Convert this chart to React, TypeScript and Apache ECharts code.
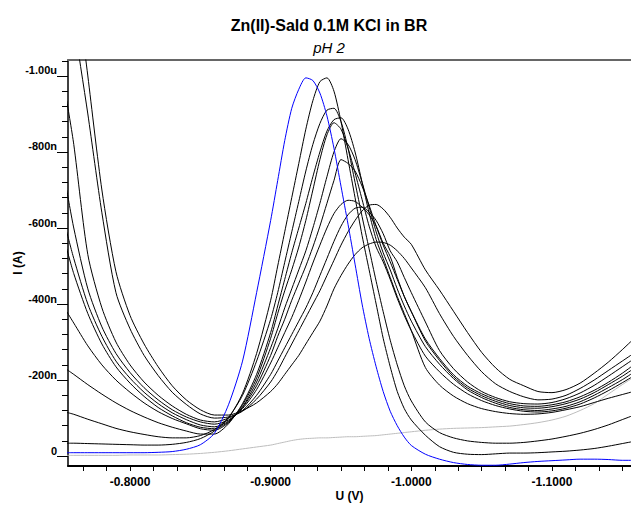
import React, { useEffect, useRef } from "react";
import * as echarts from "echarts";

// Potential U (V)
const voltage = [
  -0.755, -0.76, -0.77, -0.78, -0.79, -0.8, -0.81, -0.82, -0.83, -0.84, -0.85, -0.86, -0.87, -0.88,
  -0.89, -0.9, -0.905, -0.91, -0.915, -0.92, -0.925, -0.93, -0.935, -0.94, -0.945, -0.95, -0.955, -0.96, -0.965, -0.97,
  -0.975, -0.98, -0.985, -0.99, -0.995, -1.0,
  -1.01, -1.02, -1.03, -1.04, -1.05, -1.06, -1.07, -1.08, -1.09, -1.1, -1.11, -1.12, -1.13, -1.14, -1.15, -1.16,
];

// Currents I in nA (black scans)
const scanA = [
  -1500, -1300, -1000, -700, -485, -370, -295, -235, -185, -148, -122, -108, -108, -120,
  -140, -170, -190, -215, -240, -265, -295, -325, -355, -395, -440, -475, -505, -530, -548, -558,
  -563, -562, -555, -540, -520, -495,
  -443, -375, -315, -265, -222, -190, -170, -156, -148, -150, -160, -178, -200, -225, -250, -275,
];
const scanB = [
  -1350, -1150, -900, -640, -430, -335, -265, -212, -168, -136, -111, -100, -103, -118,
  -150, -195, -225, -260, -295, -330, -365, -400, -435, -475, -515, -555, -590, -620, -645, -660,
  -662, -650, -628, -600, -576, -557,
  -490, -437, -381, -325, -273, -232, -202, -185, -170, -167, -175, -192, -218, -247, -280, -315,
];
const scanC = [
  -935, -820, -530, -390, -300, -240, -195, -160, -132, -110, -95, -90, -100, -120,
  -160, -215, -250, -285, -320, -355, -390, -430, -475, -520, -565, -605, -635, -652, -655, -642,
  -620, -585, -540, -511, -470, -430,
  -353, -278, -230, -195, -170, -154, -143, -138, -137, -141, -151, -166, -186, -210, -235, -260,
];
const scanD = [
  -700, -600, -440, -340, -270, -220, -180, -148, -122, -103, -90, -84, -95, -125,
  -175, -245, -285, -325, -365, -410, -458, -508, -555, -600, -638, -662, -673, -670, -655, -635,
  -605, -560, -525, -470, -420, -380,
  -308, -257, -214, -184, -164, -149, -138, -132, -131, -135, -143, -156, -173, -194, -218, -245,
];
const scanE = [
  -590, -520, -400, -315, -250, -205, -168, -138, -114, -96, -82, -77, -92, -128,
  -185, -265, -315, -360, -410, -455, -500, -550, -605, -665, -725, -780, -770, -750, -710, -660,
  -605, -555, -511, -465, -420, -380,
  -303, -252, -209, -179, -159, -144, -133, -127, -126, -130, -138, -150, -167, -188, -210, -235,
];
const scanF = [
  -545, -480, -375, -295, -235, -192, -157, -128, -106, -88, -76, -72, -90, -130,
  -195, -285, -335, -390, -440, -490, -540, -600, -665, -735, -800, -835, -820, -780, -720, -655,
  -590, -535, -490, -440, -395, -355,
  -288, -242, -204, -174, -154, -139, -128, -122, -120, -124, -131, -143, -160, -180, -201, -225,
];
const scanG = [
  -380, -350, -290, -240, -200, -168, -140, -117, -99, -85, -72, -68, -88, -135,
  -205, -310, -375, -435, -490, -550, -620, -700, -780, -845, -877, -860, -810, -745, -675, -605,
  -550, -511, -465, -415, -370, -330,
  -263, -222, -189, -164, -146, -133, -124, -118, -116, -119, -126, -137, -153, -172, -193, -215,
];
const scanH = [
  -228, -215, -188, -163, -140, -120, -103, -88, -76, -66, -58, -58, -85, -138,
  -215, -325, -395, -465, -535, -600, -665, -735, -800, -855, -885, -890, -860, -800, -720, -640,
  -570, -520, -470, -420, -375, -330,
  -233, -187, -158, -138, -125, -117, -112, -110, -111, -115, -122, -130, -141, -152, -162, -172,
];
const scanI = [
  -115, -110, -97, -85, -73, -64, -57, -51, -48, -48, -54, -70, -102, -160,
  -250, -360, -430, -510, -590, -670, -750, -820, -875, -910, -915, -880, -810, -720, -630, -545,
  -460, -380, -305, -240, -185, -145,
  -90, -62, -48, -40, -36, -34, -34, -36, -40, -45, -52, -60, -70, -82, -96, -110,
];
const scanJ = [
  -34, -34, -33, -32, -31, -30, -29, -29, -31, -36, -46, -66, -100, -165,
  -270, -410, -500, -590, -680, -770, -860, -935, -985, -995, -960, -880, -780, -680, -580, -490,
  -400, -310, -235, -170, -125, -95,
  -55, -25, -10, -5, -4, -6, -8, -8, -9, -11, -13, -16, -20, -26, -33, -40,
];
// Blue scan
const blueScan = [
  -9, -9, -9, -9, -9, -9, -9, -10, -12, -18, -30, -60, -135, -250,
  -430, -620, -725, -830, -915, -965, -995, -988, -955, -895, -810, -710, -610, -505, -400, -310,
  -235, -170, -118, -80, -50, -28,
  -5, 8, 17, 22, 24, 24, 21, 17, 14, 12, 10, 8, 8, 9, 11, 11,
];
// Grey blank scan
const blankScan = [
  -2, -2, -2, -2, -2, -3, -3, -3, -4, -5, -7, -10, -14, -19,
  -24, -29, -33, -37, -41, -44, -46, -47, -48, -48, -49, -50, -51, -51, -52, -53,
  -54, -56, -58, -60, -62, -64,
  -68, -71, -73, -74, -75, -77, -79, -83, -88, -95, -105, -120, -138, -163, -188, -212,
];

const blackScans = [scanA, scanB, scanC, scanD, scanE, scanF, scanG, scanH, scanI, scanJ];

const xLabelValues = [-0.8, -0.9, -1.0, -1.1];
const xLabelTexts = ["-0.8000", "-0.9000", "-1.0000", "-1.1000"];
const yLabelValues = [0, -200, -400, -600, -800, -1000];
const yLabelTexts = ["0", "-200n", "-400n", "-600n", "-800n", "-1.00u"];

const FONT = '"Liberation Sans", Arial, Helvetica, sans-serif';

export default function App() {
  const ref = useRef<HTMLDivElement>(null);
  useEffect(() => {
    if (!ref.current) return;
    const chart = echarts.init(ref.current, null, { renderer: "svg" });

    const xTicks: number[] = [];
    for (let k = -2; k <= 21; k++) xTicks.push(+(-0.8 - k / 60).toFixed(6));
    const yTicks: number[] = [];
    for (let k = 0; k <= 26; k++) yTicks.push(-40 * k);

    const xMin = -1.1562;
    const xMax = -0.7559;
    const yMin = -1042;
    const yMax = 26;

    const mk = (arr: number[], color: string, z: number) => ({
      type: "line",
      data: voltage.map((v, i) => [v, arr[i]]),
      showSymbol: false,
      symbol: "none",
      smooth: 0.25,
      silent: true,
      z,
      lineStyle: { color, width: 1 },
    });

    const series: any[] = [mk(blankScan, "#bdbdbd", 2)];
    blackScans.forEach((s) => series.push(mk(s, "#000000", 3)));
    series.push(mk(blueScan, "#0000ff", 4));

    chart.setOption({
      animation: false,
      backgroundColor: "#ffffff",
      grid: { left: 68, top: 60, right: 0, bottom: 39, containLabel: false, outerBoundsMode: "none" },
      graphic: [
        {
          type: "text",
          x: 329,
          y: 25,
          style: {
            text: "Zn(II)-Sald 0.1M KCl in BR",
            font: `bold 16px ${FONT}`,
            fill: "#000",
            align: "center",
            verticalAlign: "middle",
            textAlign: "center",
            textVerticalAlign: "middle",
          },
        },
        {
          type: "text",
          x: 329,
          y: 47,
          style: {
            text: "pH 2",
            font: `italic 15px ${FONT}`,
            fill: "#000",
            align: "center",
            verticalAlign: "middle",
            textAlign: "center",
            textVerticalAlign: "middle",
          },
        },
      ],
      xAxis: [
        {
          type: "value",
          min: xMin,
          max: xMax,
          inverse: true,
          position: "bottom",
          axisLine: { show: true, onZero: false, lineStyle: { color: "#000", width: 2 } },
          axisTick: { show: true, length: 5, customValues: xTicks, lineStyle: { color: "#000", width: 1 } },
          axisLabel: {
            customValues: xLabelValues,
            formatter: (v: number) => {
              const i = xLabelValues.findIndex((x) => Math.abs(x - v) < 1e-6);
              return i >= 0 ? xLabelTexts[i] : "";
            },
            fontSize: 12,
            fontWeight: "bold",
            fontFamily: FONT,
            color: "#000",
            margin: 10,
          },
          splitLine: { show: false },
          name: "U (V)",
          nameLocation: "middle",
          nameGap: 24,
          nameMoveOverlap: false,
          nameTextStyle: { fontSize: 12, fontWeight: "bold", fontFamily: FONT, color: "#000" },
        },
        {
          type: "value",
          min: xMin,
          max: xMax,
          inverse: true,
          position: "top",
          axisLine: { show: true, onZero: false, lineStyle: { color: "#666", width: 2 } },
          axisTick: { show: false },
          axisLabel: { show: false },
          splitLine: { show: false },
        },
      ],
      yAxis: [
        {
          type: "value",
          min: yMin,
          max: yMax,
          inverse: true,
          position: "left",
          axisLine: { show: true, onZero: false, lineStyle: { color: "#000", width: 1.5 } },
          axisTick: { show: true, length: 11, customValues: yLabelValues, lineStyle: { color: "#000", width: 1 } },
          axisLabel: {
            customValues: yLabelValues,
            formatter: (v: number) => {
              const i = yLabelValues.findIndex((y) => Math.abs(y - v) < 1e-6);
              return i >= 0 ? yLabelTexts[i] : "";
            },
            fontSize: 11,
            fontWeight: "bold",
            fontFamily: FONT,
            color: "#000",
            margin: 11,
            verticalAlign: "bottom",
            lineHeight: 11,
          },
          splitLine: { show: false },
          name: "I (A)",
          nameLocation: "middle",
          nameGap: 44,
          nameRotate: 90,
          nameMoveOverlap: false,
          nameTextStyle: { fontSize: 12, fontWeight: "bold", fontFamily: FONT, color: "#000" },
        },
        {
          type: "value",
          min: yMin,
          max: yMax,
          inverse: true,
          position: "left",
          offset: 0,
          axisLine: { show: false, onZero: false },
          axisTick: { show: true, length: 6, customValues: yTicks, lineStyle: { color: "#000", width: 1 } },
          axisLabel: { show: false },
          splitLine: { show: false },
        },
      ],
      series,
    });
    return () => chart.dispose();
  }, []);
  return (
    <div
      ref={ref}
      style={{ position: "fixed", left: 0, top: 0, width: 631, height: 505, background: "#fff" }}
    />
  );
}
